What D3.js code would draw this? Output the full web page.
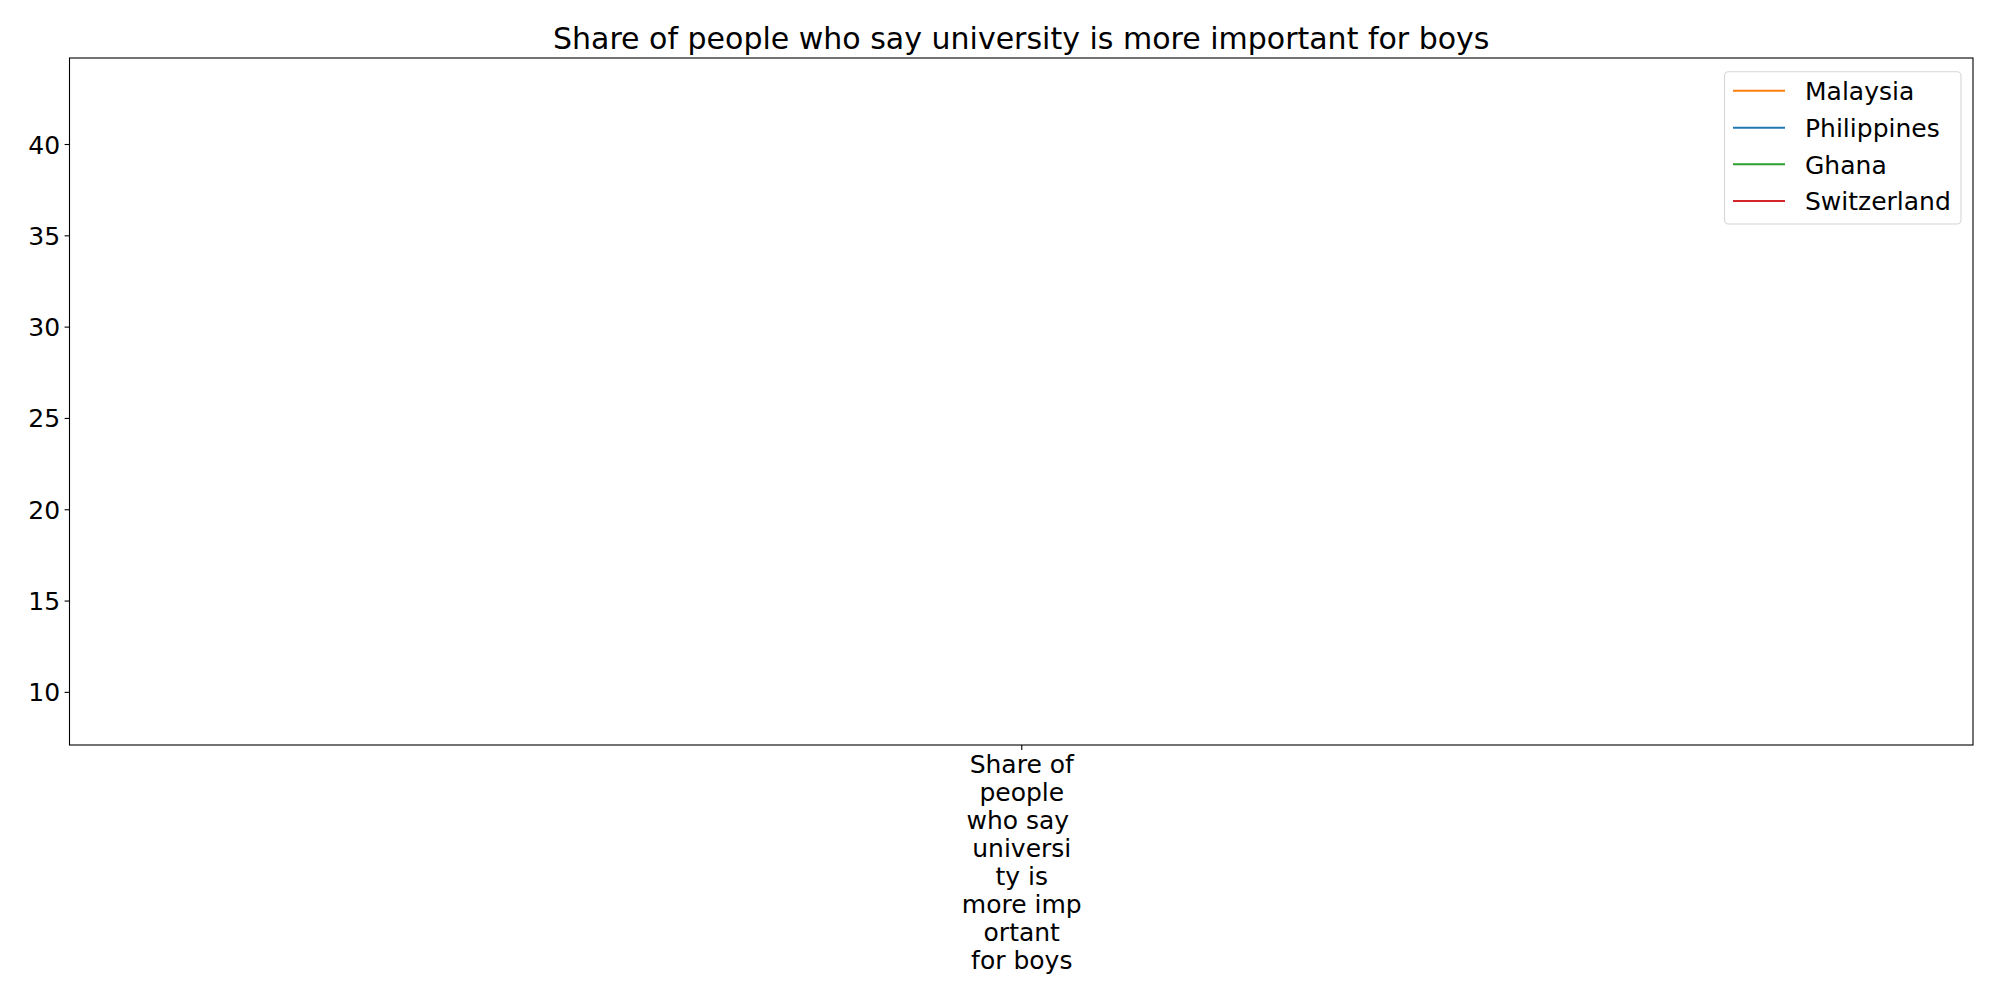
<!DOCTYPE html>
<html>
<head>
<meta charset="utf-8">
<script src="https://cdn.jsdelivr.net/npm/d3@7"></script>
<style>
  html, body { margin: 0; padding: 0; background: #fff; }
  svg, svg text { font-family: "DejaVu Sans", sans-serif; }
  svg { display: block; }
</style>
</head>
<body>
<svg id="chart" width="2000" height="1000"></svg>
<script>
// ---- data ----
const categories = ["Share of people who say university is more important for boys"];
const categoryLabelLines = ["Share of", "people", "who say ", "universi", "ty is", "more imp", "ortant", "for boys"];
const seriesNames = ["Malaysia", "Philippines", "Ghana", "Switzerland"];
const malaysiaValues = [27.0];
const philippinesValues = [31.5];
const ghanaValues = [43.0];
const switzerlandValues = [8.8];
const yTickValues = [10, 15, 20, 25, 30, 35, 40];
const titleText = "Share of people who say university is more important for boys";

const seriesValues = [malaysiaValues, philippinesValues, ghanaValues, switzerlandValues];
const seriesColors = ["#ff7f0e", "#1f77b4", "#2ca02c", "#d62728"];

// ---- layout ----
const FONT = "'DejaVu Sans', sans-serif";
const svg = d3.select("#chart");
const L = 69.5, R = 1973, T = 58, B = 745;

const allVals = seriesValues.flat();
const vmin = d3.min(allVals), vmax = d3.max(allVals);
const pad = (vmax - vmin) * 0.05;

const x = d3.scalePoint().domain(categories).range([L, R]).padding(0.5);
const y = d3.scaleLinear().domain([vmin - pad, vmax + pad]).range([B, T]);

// title
svg.append("text")
  .attr("x", (L + R) / 2).attr("y", 49)
  .attr("text-anchor", "middle")
  .style("font-family", FONT)
  .attr("font-size", 30)
  .attr("fill", "#000")
  .text(titleText);

// lines (single point per series -> nothing visible, as in reference)
const line = d3.line().x((d, i) => x(categories[i])).y(d => y(d));
seriesValues.forEach((vals, i) => {
  svg.append("path")
    .datum(vals)
    .attr("d", line)
    .attr("fill", "none")
    .attr("stroke", seriesColors[i])
    .attr("stroke-width", 2);
});

// y axis
const yAxis = d3.axisLeft(y).tickValues(yTickValues).tickSize(4.9).tickPadding(4.5);
const gy = svg.append("g").attr("transform", `translate(${L},0)`).call(yAxis)
  .attr("font-family", null).style("font-family", FONT);
gy.select(".domain").remove();
gy.selectAll(".tick line").attr("stroke", "#000").attr("stroke-width", 1.1);
gy.selectAll(".tick text").attr("font-size", 25).attr("fill", "#000")
  .style("font-family", FONT).attr("dy", "0.36em");

// x axis
const xAxis = d3.axisBottom(x).tickSize(4.9).tickFormat(() => "");
const gx = svg.append("g").attr("transform", `translate(0,${B})`).call(xAxis)
  .attr("font-family", null).style("font-family", FONT);
gx.select(".domain").remove();
gx.selectAll(".tick line").attr("stroke", "#000").attr("stroke-width", 1.1);
gx.selectAll(".tick text").remove();
gx.selectAll(".tick").each(function () {
  const t = d3.select(this).append("text")
    .attr("text-anchor", "middle")
    .attr("font-size", 25)
    .attr("fill", "#000")
    .style("font-family", FONT)
    .style("white-space", "pre");
  categoryLabelLines.forEach((ln, i) => {
    t.append("tspan").attr("x", 0).attr("y", 28.3 + i * 27.9).text(ln);
  });
});

// frame
svg.append("rect")
  .attr("x", L).attr("y", T).attr("width", R - L).attr("height", B - T)
  .attr("fill", "none").attr("stroke", "#000").attr("stroke-width", 1.1);

// legend
const lg = svg.append("g").style("font-family", FONT);
lg.append("rect")
  .attr("x", 1724.5).attr("y", 71.7).attr("width", 236.5).attr("height", 152.3)
  .attr("rx", 4).attr("ry", 4)
  .attr("fill", "#fff").attr("fill-opacity", 0.8)
  .attr("stroke", "#d6d6d6").attr("stroke-width", 1.1);
const rowY = [90.7, 127.7, 164.3, 201];
seriesNames.forEach((name, i) => {
  lg.append("line")
    .attr("x1", 1733).attr("x2", 1785)
    .attr("y1", rowY[i]).attr("y2", rowY[i])
    .attr("stroke", seriesColors[i]).attr("stroke-width", 2);
  lg.append("text")
    .attr("x", 1805).attr("y", rowY[i] + 9.3)
    .attr("font-size", 25).attr("fill", "#000")
    .style("font-family", FONT)
    .text(name);
});
</script>
</body>
</html>
